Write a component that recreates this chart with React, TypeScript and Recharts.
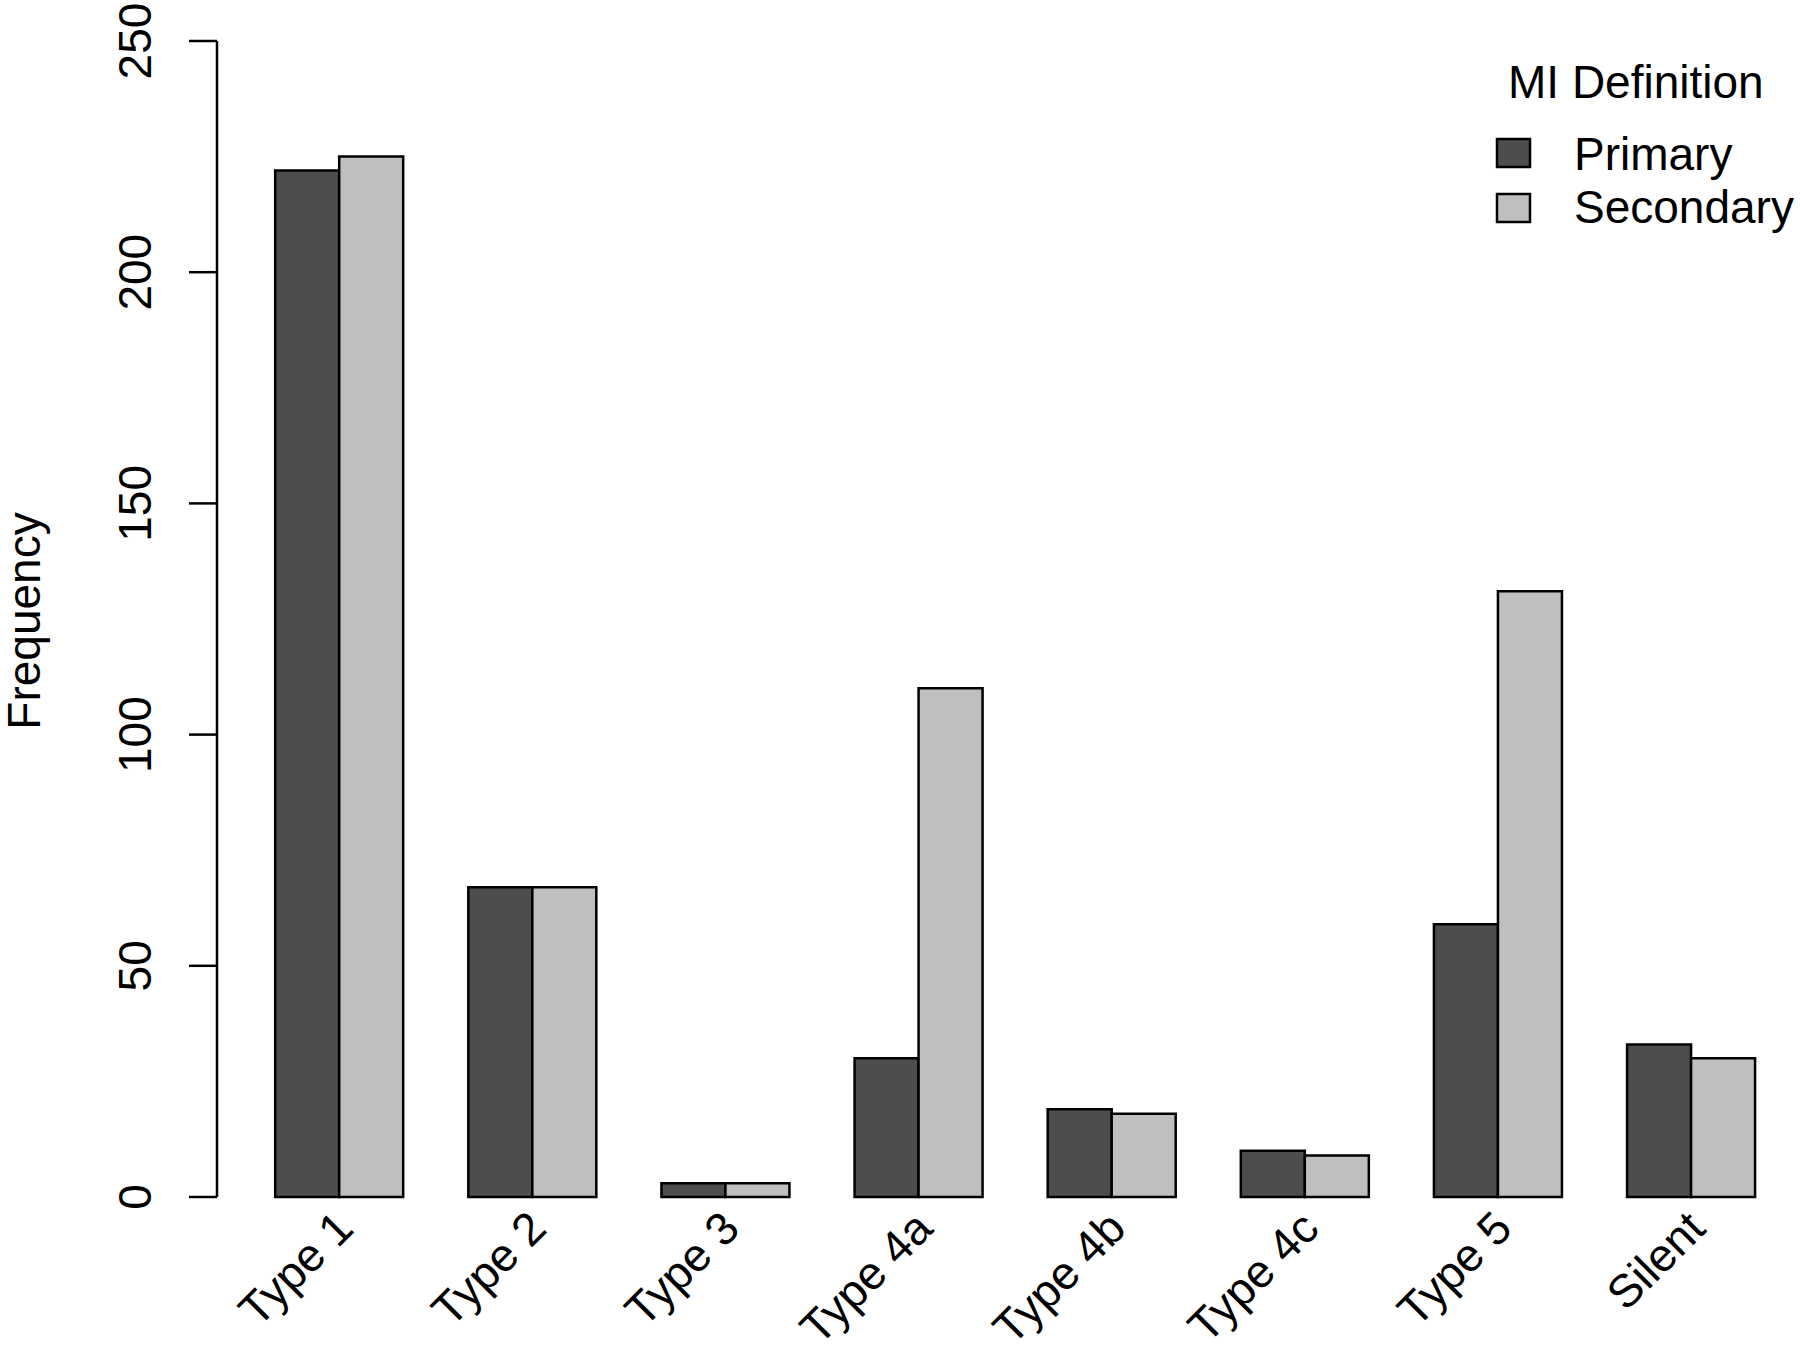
import { Bar, BarChart, XAxis, YAxis } from "recharts";

const categories = ["Type 1", "Type 2", "Type 3", "Type 4a", "Type 4b", "Type 4c", "Type 5", "Silent"];
const primaryValues = [222, 67, 3, 30, 19, 10, 59, 33];
const secondaryValues = [225, 67, 3, 110, 18, 9, 131, 30];
const yTicks = [0, 50, 100, 150, 200, 250];

const seriesNames = ["Primary", "Secondary"];
const seriesColors = ["#4D4D4D", "#BFBFBF"];
const legendTitle = "MI Definition";
const yLabel = "Frequency";

const FONT = "'Liberation Sans', Arial, Helvetica, sans-serif";
const FS = 46;

const rows = categories.map((name, i) => ({
  name,
  primary: primaryValues[i],
  secondary: secondaryValues[i],
}));

function XTick(props: any) {
  const { x, y, payload } = props;
  const ax = x + 16;
  const ay = y + 34;
  return (
    <text
      x={ax}
      y={ay}
      transform={`rotate(-45 ${ax} ${ay})`}
      textAnchor="end"
      fontFamily={FONT}
      fontSize={FS}
      fill="#000"
    >
      {payload.value}
    </text>
  );
}

function YTick(props: any) {
  const { x, y, payload } = props;
  const ax = x - 38;
  return (
    <text
      x={ax}
      y={y}
      transform={`rotate(-90 ${ax} ${y})`}
      textAnchor="middle"
      fontFamily={FONT}
      fontSize={FS}
      fill="#000"
    >
      {payload.value}
    </text>
  );
}

// legend + y title drawn on top of the chart, R style
function LegendBox() {
  return (
    <svg
      width={1800}
      height={1351}
      style={{ position: "absolute", left: 0, top: 0, pointerEvents: "none" }}
    >
      <text x={1508} y={98} fontFamily={FONT} fontSize={FS} fill="#000">
        {legendTitle}
      </text>
      {seriesNames.map((name, i) => (
        <g key={name}>
          <rect
            x={1497}
            y={139 + i * 55}
            width={33}
            height={28}
            fill={seriesColors[i]}
            stroke="#000"
            strokeWidth={2.5}
          />
          <text x={1574} y={170 + i * 53} fontFamily={FONT} fontSize={FS} fill="#000">
            {name}
          </text>
        </g>
      ))}
      <text
        x={40}
        y={621}
        transform="rotate(-90 40 621)"
        textAnchor="middle"
        fontFamily={FONT}
        fontSize={FS}
        fill="#000"
      >
        {yLabel}
      </text>
    </svg>
  );
}

export default function App() {
  return (
    <div style={{ position: "absolute", left: 0, top: 0, width: 1800, height: 1351, background: "#fff" }}>
      <BarChart
        width={1800}
        height={1351}
        data={rows}
        margin={{ top: 41, right: 12, bottom: 0, left: 0 }}
        barCategoryGap="16.67%"
        barGap={0}
      >
        <XAxis
          dataKey="name"
          height={154}
          axisLine={false}
          tickLine={false}
          tickSize={0}
          tickMargin={0}
          interval={0}
          padding={{ left: 26, right: 0 }}
          tick={<XTick />}
        />
        <YAxis
          width={217}
          domain={[0, 250]}
          ticks={yTicks}
          interval={0}
          tickSize={28}
          tickMargin={0}
          axisLine={{ stroke: "#000", strokeWidth: 2.5 }}
          tickLine={{ stroke: "#000", strokeWidth: 2.5 }}
          tick={<YTick />}
        />
        <Bar
          dataKey="primary"
          name={seriesNames[0]}
          fill={seriesColors[0]}
          stroke="#000"
          strokeWidth={2.5}
          isAnimationActive={false}
        />
        <Bar
          dataKey="secondary"
          name={seriesNames[1]}
          fill={seriesColors[1]}
          stroke="#000"
          strokeWidth={2.5}
          isAnimationActive={false}
        />
      </BarChart>
      <LegendBox />
    </div>
  );
}
